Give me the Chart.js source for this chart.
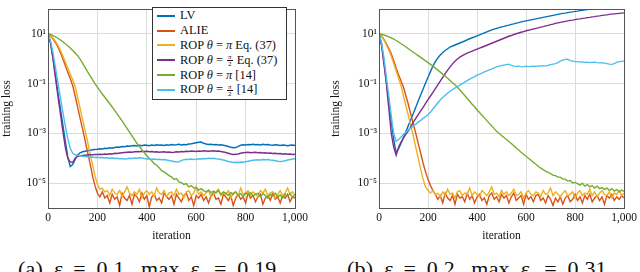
<!DOCTYPE html>
<html>
<head>
<meta charset="utf-8">
<script src="https://cdn.jsdelivr.net/npm/chart.js@4.4.1/dist/chart.umd.min.js"></script>
<style>
  html, body { margin: 0; padding: 0; background: #fff; }
  #wrap { position: relative; width: 640px; height: 272px; overflow: hidden; font-family: 'Liberation Serif', 'DejaVu Serif', serif; color: #111; }
  .panel { position: absolute; top: 0; width: 320px; height: 250px; }
  .legend { position: absolute; left: 152px; top: 7px; width: 135px; height: 93px; border: 1px solid #333; background: #fff; padding-top: 0.5px; box-sizing: border-box; }
  .legend .row { height: 14.8px; display: flex; align-items: center; font-size: 12.4px; white-space: nowrap; }
  .legend .swatch { width: 18px; height: 2px; margin-left: 4px; margin-right: 5px; }
  .frac { display: inline-flex; flex-direction: column; align-items: center; font-size: 7px; line-height: 6px; vertical-align: middle; margin: 0 1px; }
  .frac span:first-child { border-bottom: 0.7px solid #111; padding: 0 1px; }
  .caption { position: absolute; top: 256px; font-size: 22px; word-spacing: 5px; letter-spacing: 0.2px; white-space: nowrap; }
  .caption sub { font-size: 14px; }
</style>
</head>
<body>
<div id="wrap">
  <div class="panel" style="left:0"><canvas id="chartA" width="320" height="250"></canvas></div>
  <div class="panel" style="left:320px"><canvas id="chartB" width="320" height="250"></canvas></div>
  <div class="legend" id="legend"></div>
  <div class="caption" style="left:18px">(a) <i>ε</i> = 0.1, max <i>ε</i><sub><i>t</i></sub> = 0.19</div>
  <div class="caption" style="left:347px">(b) <i>ε</i> = 0.2, max <i>ε</i><sub><i>t</i></sub> = 0.31</div>
</div>
<script>
// iterations shared by every series (sampled every 10 steps)
const iterations = [0,10,20,30,40,50,60,70,80,90,100,110,120,130,140,150,160,170,180,190,200,
  210,220,230,240,250,260,270,280,290,300,310,320,330,340,350,360,370,380,390,400,
  410,420,430,440,450,460,470,480,490,500,510,520,530,540,550,560,570,580,590,600,
  610,620,630,640,650,660,670,680,690,700,710,720,730,740,750,760,770,780,790,800,
  810,820,830,840,850,860,870,880,890,900,910,920,930,940,950,960,970,980,990,1000];

const seriesLabels = ['LV', 'ALIE', 'ROP θ = π Eq. (37)', 'ROP θ = π/2 Eq. (37)', 'ROP θ = π [14]', 'ROP θ = π/2 [14]'];
const seriesColors = ['#0072BD', '#D95319', '#EDB120', '#7E2F8E', '#77AC30', '#4DBEEE'];

const xTicks = [0, 200, 400, 600, 800, 1000];
const xTickLabels = ['0', '200', '400', '600', '800', '1,000'];
const yTicks = [1e-5, 1e-3, 1e-1, 1e1];
const yTickLabels = ['10⁻⁵', '10⁻³', '10⁻¹', '10¹'];

// training loss, stored as log10 values
// (a) eps = 0.1
const lvA = [1,0.65,0.05,-0.65,-1.35,-2.0,-2.65,-3.3,-3.95,-4.33,-4.25,-4.05,-3.88,-3.78,-3.74,-3.72,-3.7,-3.68,-3.66,-3.65,-3.64,
  -3.62,-3.63,-3.6,-3.61,-3.58,-3.6,-3.57,-3.55,-3.56,-3.53,-3.54,-3.51,-3.52,-3.5,-3.49,-3.51,-3.48,-3.5,-3.47,-3.48,
  -3.5,-3.47,-3.49,-3.46,-3.48,-3.47,-3.49,-3.46,-3.48,-3.45,-3.47,-3.46,-3.44,-3.47,-3.45,-3.46,-3.43,-3.42,-3.4,-3.38,
  -3.36,-3.35,-3.4,-3.43,-3.45,-3.44,-3.46,-3.45,-3.47,-3.46,-3.48,-3.5,-3.53,-3.56,-3.58,-3.57,-3.52,-3.48,-3.46,-3.47,
  -3.45,-3.46,-3.44,-3.46,-3.45,-3.47,-3.44,-3.46,-3.45,-3.47,-3.48,-3.46,-3.47,-3.49,-3.47,-3.48,-3.5,-3.48,-3.47,-3.49];
const alieA = [1,0.92,0.8,0.65,0.47,0.25,0.0,-0.27,-0.55,-0.8,-1.08,-1.5,-1.95,-2.4,-2.82,-3.28,-3.75,-4.2,-4.7,-5.1,-5.4,
  -5.55,-5.35,-5.6,-5.5,-5.8,-5.45,-5.65,-5.55,-5.9,-5.4,-5.6,-5.7,-5.5,-5.85,-5.45,-5.55,-5.75,-5.4,-5.65,-5.5,
  -5.95,-5.55,-5.45,-5.7,-5.6,-5.8,-5.4,-5.55,-5.65,-5.5,-5.85,-5.45,-5.6,-5.75,-5.5,-5.4,-5.7,-5.55,-5.9,-5.5,
  -5.6,-5.45,-5.7,-5.55,-5.8,-5.5,-5.4,-5.65,-5.6,-5.85,-5.45,-5.55,-5.7,-5.5,-5.9,-5.6,-5.45,-5.65,-5.55,-5.8,
  -5.4,-5.6,-5.5,-5.75,-5.55,-5.45,-5.85,-5.6,-5.5,-5.7,-5.4,-5.65,-5.55,-5.8,-5.5,-5.6,-5.45,-5.75,-5.55,-5.6];
const ropPiA = [1,0.93,0.83,0.7,0.54,0.35,0.12,-0.12,-0.38,-0.62,-0.85,-1.12,-1.55,-2.0,-2.45,-2.88,-3.32,-3.78,-4.25,-4.7,-5.05,
  -5.25,-5.2,-5.35,-5.3,-5.5,-5.25,-5.4,-5.45,-5.3,-5.55,-5.35,-5.15,-5.4,-5.5,-5.35,-5.45,-5.25,-5.6,-5.4,-5.3,
  -5.45,-5.35,-5.5,-5.2,-5.4,-5.45,-5.3,-5.55,-5.4,-5.35,-5.5,-5.25,-5.45,-5.4,-5.6,-5.35,-5.3,-5.5,-5.4,-5.15,
  -5.45,-5.35,-5.5,-5.4,-5.3,-5.55,-5.45,-5.35,-5.25,-5.5,-5.4,-5.45,-5.3,-5.6,-5.4,-5.35,-5.5,-5.2,-5.45,-5.4,
  -5.3,-5.5,-5.35,-5.45,-5.55,-5.3,-5.4,-5.25,-5.5,-5.4,-5.35,-5.6,-5.45,-5.3,-5.5,-5.4,-5.2,-5.45,-5.35,-5.5];
const ropHalfA = [1,0.65,0.0,-0.75,-1.5,-2.2,-2.9,-3.55,-4.0,-4.15,-4.17,-4.0,-3.92,-3.9,-3.89,-3.88,-3.87,-3.86,-3.86,-3.85,-3.85,
  -3.84,-3.85,-3.83,-3.84,-3.82,-3.83,-3.8,-3.81,-3.79,-3.78,-3.77,-3.76,-3.75,-3.76,-3.74,-3.73,-3.74,-3.72,-3.73,-3.72,
  -3.74,-3.73,-3.75,-3.74,-3.76,-3.75,-3.74,-3.76,-3.75,-3.77,-3.76,-3.74,-3.75,-3.73,-3.74,-3.72,-3.73,-3.71,-3.72,-3.73,
  -3.71,-3.72,-3.7,-3.71,-3.72,-3.71,-3.7,-3.72,-3.71,-3.73,-3.75,-3.77,-3.8,-3.83,-3.85,-3.84,-3.83,-3.8,-3.78,-3.77,
  -3.76,-3.78,-3.77,-3.76,-3.78,-3.77,-3.79,-3.78,-3.8,-3.79,-3.81,-3.8,-3.82,-3.81,-3.83,-3.82,-3.84,-3.83,-3.85,-3.84];
const ropPiRefA = [1,0.97,0.93,0.88,0.82,0.75,0.68,0.6,0.52,0.43,0.33,0.23,0.12,-0.02,-0.18,-0.35,-0.52,-0.68,-0.84,-1.0,-1.14,
  -1.28,-1.42,-1.55,-1.68,-1.81,-1.94,-2.08,-2.22,-2.36,-2.5,-2.65,-2.8,-2.95,-3.1,-3.25,-3.4,-3.53,-3.66,-3.78,-3.9,
  -4.0,-4.1,-4.22,-4.28,-4.38,-4.5,-4.55,-4.62,-4.7,-4.75,-4.85,-4.82,-4.95,-4.98,-5.05,-5.02,-5.15,-5.1,-5.2,-5.18,
  -5.28,-5.22,-5.3,-5.35,-5.28,-5.38,-5.32,-5.4,-5.3,-5.45,-5.35,-5.4,-5.5,-5.38,-5.45,-5.35,-5.5,-5.42,-5.55,-5.4,
  -5.48,-5.38,-5.52,-5.45,-5.4,-5.55,-5.42,-5.5,-5.6,-5.45,-5.52,-5.4,-5.55,-5.48,-5.6,-5.45,-5.52,-5.42,-5.58,-5.45];
const ropHalfRefA = [1,0.72,0.25,-0.35,-0.95,-1.55,-2.15,-2.7,-3.2,-3.6,-3.8,-3.86,-3.88,-3.9,-3.92,-3.93,-3.94,-3.96,-3.95,-3.97,-3.96,
  -3.98,-3.97,-3.99,-3.98,-4.0,-3.99,-4.01,-4.0,-4.02,-4.01,-4.03,-4.02,-4.0,-4.01,-3.99,-4.0,-3.98,-3.99,-4.01,-4.03,
  -4.02,-4.04,-4.03,-4.05,-4.04,-4.06,-4.05,-4.07,-4.09,-4.11,-4.13,-4.15,-4.14,-4.1,-4.06,-4.04,-4.05,-4.03,-4.05,-4.04,
  -4.02,-4.03,-4.01,-4.02,-4.0,-4.01,-4.0,-4.02,-4.03,-4.05,-4.07,-4.1,-4.13,-4.15,-4.17,-4.16,-4.17,-4.15,-4.16,-4.14,
  -4.12,-4.1,-4.08,-4.07,-4.06,-4.07,-4.05,-4.06,-4.05,-4.07,-4.08,-4.1,-4.12,-4.13,-4.12,-4.1,-4.07,-4.05,-4.03,-4.02];

// (b) eps = 0.2
const lvB = [1,0.6,-0.1,-0.9,-1.7,-2.5,-3.25,-3.78,-3.62,-3.4,-3.17,-2.93,-2.68,-2.44,-2.2,-1.95,-1.7,-1.46,-1.22,-0.98,-0.75,
  -0.52,-0.3,-0.12,0.03,0.15,0.25,0.33,0.4,0.46,0.51,0.55,0.59,0.63,0.67,0.71,0.76,0.8,0.84,0.88,0.92,
  0.96,1.0,1.04,1.08,1.12,1.16,1.19,1.22,1.25,1.28,1.3,1.33,1.35,1.38,1.4,1.43,1.45,1.48,1.5,1.52,
  1.54,1.56,1.58,1.6,1.62,1.64,1.66,1.68,1.7,1.72,1.74,1.76,1.78,1.8,1.82,1.83,1.85,1.87,1.88,1.9,
  1.91,1.93,1.94,1.96,1.97,1.98,2.0,2.01,2.02,2.04,2.05,2.06,2.08,2.09,2.1,2.11,2.12,2.14,2.15,2.16];
const alieB = [1,0.92,0.78,0.6,0.42,0.2,-0.08,-0.38,-0.65,-0.9,-1.15,-1.5,-1.85,-2.25,-2.62,-3.0,-3.4,-3.8,-4.2,-4.55,-4.85,
  -5.1,-5.3,-5.45,-5.65,-5.5,-5.8,-5.4,-5.6,-5.7,-5.5,-5.85,-5.45,-5.6,-5.55,-5.75,-5.4,-5.65,-5.5,-5.8,-5.55,
  -5.45,-5.7,-5.6,-5.85,-5.5,-5.4,-5.65,-5.55,-5.75,-5.45,-5.6,-5.5,-5.8,-5.55,-5.4,-5.7,-5.6,-5.5,-5.85,-5.45,
  -5.65,-5.55,-5.75,-5.5,-5.45,-5.7,-5.6,-5.8,-5.5,-5.65,-5.9,-5.6,-5.75,-5.55,-5.85,-5.6,-5.5,-5.75,-5.65,-5.45,
  -5.7,-5.55,-5.8,-5.5,-5.65,-5.45,-5.75,-5.6,-5.5,-5.7,-5.55,-5.85,-5.5,-5.6,-5.45,-5.7,-5.55,-5.65,-5.5,-5.6];
const ropPiB = [1,0.9,0.75,0.55,0.35,0.1,-0.2,-0.5,-0.8,-1.08,-1.5,-1.9,-2.3,-2.7,-3.1,-3.55,-4.0,-4.45,-4.85,-5.15,-5.3,
  -5.4,-5.3,-5.45,-5.4,-5.55,-5.35,-5.5,-5.25,-5.45,-5.4,-5.6,-5.35,-5.3,-5.5,-5.4,-5.45,-5.2,-5.5,-5.35,-5.45,
  -5.55,-5.3,-5.4,-5.5,-5.35,-5.15,-5.45,-5.4,-5.55,-5.3,-5.45,-5.35,-5.5,-5.4,-5.25,-5.5,-5.45,-5.35,-5.6,-5.4,
  -5.3,-5.45,-5.5,-5.35,-5.4,-5.55,-5.3,-5.45,-5.4,-5.2,-5.5,-5.35,-5.45,-5.55,-5.4,-5.3,-5.5,-5.45,-5.35,-5.6,
  -5.4,-5.3,-5.5,-5.4,-5.45,-5.25,-5.5,-5.35,-5.55,-5.4,-5.3,-5.45,-5.5,-5.35,-5.6,-5.4,-5.45,-5.3,-5.5,-5.4];
const ropHalfB = [1,0.55,-0.2,-1.0,-2.0,-3.0,-3.55,-3.88,-3.55,-3.35,-3.18,-3.03,-2.9,-2.73,-2.56,-2.4,-2.25,-2.1,-1.96,-1.8,-1.65,
  -1.5,-1.35,-1.2,-1.05,-0.9,-0.75,-0.6,-0.46,-0.33,-0.21,-0.1,-0.01,0.06,0.12,0.17,0.22,0.26,0.3,0.34,0.38,
  0.42,0.46,0.5,0.54,0.58,0.62,0.66,0.7,0.74,0.78,0.82,0.86,0.9,0.93,0.97,1.0,1.03,1.06,1.09,1.12,
  1.14,1.17,1.19,1.22,1.24,1.27,1.29,1.32,1.34,1.37,1.39,1.42,1.44,1.46,1.48,1.5,1.52,1.54,1.55,1.57,
  1.59,1.6,1.62,1.63,1.65,1.66,1.68,1.69,1.71,1.72,1.74,1.75,1.76,1.78,1.79,1.8,1.81,1.82,1.83,1.84];
const ropPiRefB = [1,0.98,0.95,0.92,0.88,0.84,0.79,0.73,0.67,0.6,0.54,0.47,0.4,0.33,0.26,0.19,0.12,0.05,-0.02,-0.09,-0.16,
  -0.23,-0.3,-0.38,-0.46,-0.54,-0.62,-0.7,-0.79,-0.88,-0.97,-1.05,-1.15,-1.26,-1.37,-1.48,-1.6,-1.71,-1.83,-1.93,-2.05,
  -2.16,-2.27,-2.38,-2.49,-2.6,-2.7,-2.81,-2.92,-3.01,-3.09,-3.17,-3.25,-3.33,-3.41,-3.5,-3.59,-3.67,-3.76,-3.84,-3.92,
  -4.0,-4.08,-4.16,-4.24,-4.32,-4.4,-4.46,-4.52,-4.57,-4.62,-4.68,-4.7,-4.76,-4.76,-4.84,-4.84,-4.92,-4.9,-4.99,-4.97,
  -5.02,-5.08,-5.0,-5.12,-5.06,-5.15,-5.1,-5.2,-5.12,-5.22,-5.18,-5.25,-5.2,-5.3,-5.22,-5.32,-5.26,-5.35,-5.28,-5.33];
const ropHalfRefB = [1,0.65,0.05,-0.75,-1.5,-2.3,-3.0,-3.32,-3.25,-3.15,-3.05,-2.95,-2.86,-2.78,-2.7,-2.63,-2.55,-2.48,-2.4,-2.33,-2.25,
  -2.15,-2.02,-1.9,-1.77,-1.66,-1.56,-1.47,-1.39,-1.31,-1.24,-1.18,-1.12,-1.06,-1.0,-0.94,-0.88,-0.82,-0.77,-0.72,-0.66,
  -0.62,-0.58,-0.53,-0.49,-0.45,-0.42,-0.37,-0.33,-0.3,-0.28,-0.26,-0.24,-0.22,-0.27,-0.3,-0.31,-0.3,-0.32,-0.33,-0.3,
  -0.32,-0.31,-0.3,-0.31,-0.29,-0.3,-0.28,-0.3,-0.27,-0.24,-0.22,-0.2,-0.16,-0.1,-0.06,-0.03,-0.02,-0.08,-0.1,-0.12,
  -0.12,-0.14,-0.13,-0.15,-0.14,-0.16,-0.15,-0.14,-0.16,-0.17,-0.16,-0.18,-0.2,-0.22,-0.23,-0.2,-0.15,-0.12,-0.11,-0.1];

const panelA = [lvA, alieA, ropPiA, ropHalfA, ropPiRefA, ropHalfRefA];
const panelB = [lvB, alieB, ropPiB, ropHalfB, ropPiRefB, ropHalfRefB];

[...panelA, ...panelB].forEach((s, i) => {
    if (s.length !== iterations.length) throw new Error('series ' + i + ' has ' + s.length + ' values');
});

const serif = 'Liberation Serif';
const axisFont = { family: serif, size: 11.5 };
Chart.defaults.font.family = serif;
Chart.defaults.color = '#111';

// full frame around the plot area, like pgfplots
const frame = {
    id: 'frame',
    afterDatasetsDraw(chart) {
        const { ctx, chartArea: a } = chart;
        ctx.save();
        ctx.strokeStyle = '#555';
        ctx.lineWidth = 1;
        ctx.strokeRect(Math.round(a.left) + 0.5, Math.round(a.top) + 0.5, Math.round(a.right - a.left), Math.round(a.bottom - a.top));
        ctx.restore();
    }
};

function makeChart(id, series, pad) {
    const datasets = series.map((logs, i) => ({
        label: seriesLabels[i],
        data: iterations.map((it, k) => ({ x: it, y: Math.pow(10, logs[k]) })),
        borderColor: seriesColors[i],
        borderWidth: 1.4,
        pointRadius: 0,
        tension: 0,
        order: series.length - i
    }));

    return new Chart(document.getElementById(id), {
        type: 'line',
        data: { datasets },
        options: {
            responsive: false,
            animation: false,
            layout: { padding: { left: 0, right: pad.right, top: 3, bottom: 0 } },
            plugins: { legend: { display: false }, tooltip: { enabled: false } },
            scales: {
                x: {
                    type: 'linear',
                    min: 0,
                    max: 1000,
                    afterBuildTicks: s => { s.ticks = xTicks.map(v => ({ value: v })); },
                    afterFit: s => { s.height = 42; },
                    ticks: {
                        callback: v => xTickLabels[xTicks.indexOf(v)],
                        font: axisFont,
                        padding: 3,
                        maxRotation: 0
                    },
                    grid: { color: '#dcdcdc', drawTicks: false },
                    border: { display: false },
                    title: { display: true, text: 'iteration', font: axisFont, padding: { top: 0, bottom: 7 } }
                },
                y: {
                    type: 'logarithmic',
                    min: 1e-6,
                    max: 1e2,
                    afterBuildTicks: s => { s.ticks = yTicks.map(v => ({ value: v })); },
                    afterFit: s => { s.width = pad.left; },
                    ticks: {
                        callback: v => yTickLabels[yTicks.indexOf(v)],
                        font: axisFont,
                        padding: 2
                    },
                    grid: { color: '#dcdcdc', drawTicks: false },
                    border: { display: false },
                    title: { display: true, text: 'training loss', font: axisFont, padding: { top: pad.title, bottom: 0 } }
                }
            }
        },
        plugins: [frame]
    });
}

// legend inside panel (a)
const legend = document.getElementById('legend');
seriesLabels.forEach((label, i) => {
    const row = document.createElement('div');
    row.className = 'row';
    const sw = document.createElement('span');
    sw.className = 'swatch';
    sw.style.background = seriesColors[i];
    row.appendChild(sw);
    const txt = document.createElement('span');
    txt.innerHTML = label
        .replace('π/2', '<span class="frac"><span>π</span><span>2</span></span>')
        .replace('θ', '<i>θ</i>')
        .replace(/ = π /, ' = <i>π</i> ');
    row.appendChild(txt);
    legend.appendChild(row);
});

// canvas text needs the serif face loaded first
document.fonts.load("12px 'Liberation Serif'").then(() => {
    makeChart('chartA', panelA, { left: 48, right: 25, title: 0 });
    makeChart('chartB', panelB, { left: 59, right: 14, title: 9 });
});
</script>
</body>
</html>
